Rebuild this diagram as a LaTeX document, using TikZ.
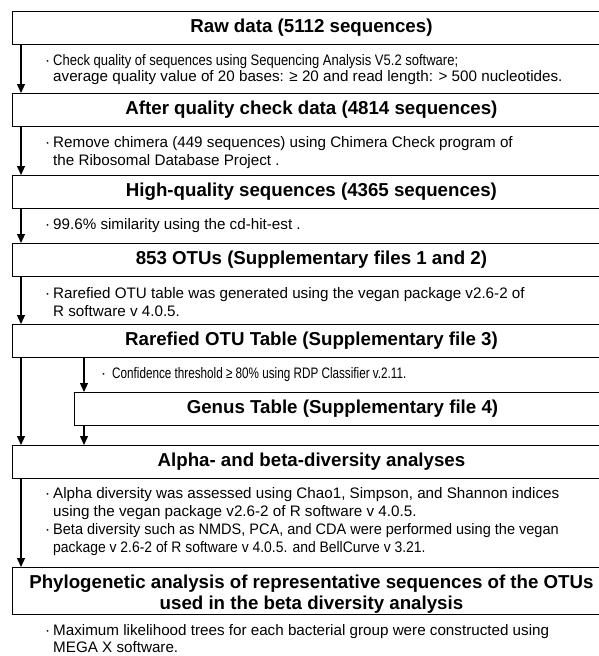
\documentclass[tikz,border=0pt]{standalone}
\usepackage{fontspec}
\setmainfont{Liberation Sans}
\usetikzlibrary{arrows.meta}
\newcommand{\bul}{\makebox[8pt][l]{·}}
\newcommand{\ind}{\hspace*{8pt}}
\begin{document}
\begin{tikzpicture}[x=1pt,y=-1pt,
 box/.style={draw, line width=0.9pt, fill=white, anchor=north west, inner sep=0pt,
   font=\fontsize{18.7}{21}\selectfont\bfseries, align=center},
 note/.style={anchor=west, align=left, inner sep=0pt},
 nf/.style={font=\fontsize{15.2}{17.5}\selectfont},
 flow/.style={line width=1.3pt, -{Triangle[width=8pt,length=9pt]}}]
\useasboundingbox (0,0) rectangle (599,656);
\begin{scope}
\clip (0,0) rectangle (599,656);
\node[box, minimum width=598pt, minimum height=33pt] (b1) at (12,11) {Raw data (5112 sequences)};
\node[box, minimum width=598pt, minimum height=33pt] (b2) at (12,93) {After quality check data (4814 sequences)};
\node[box, minimum width=598pt, minimum height=33pt] (b3) at (12,175) {High-quality sequences (4365 sequences)};
\node[box, minimum width=598pt, minimum height=33pt] (b4) at (12,243) {853 OTUs (Supplementary files 1 and 2)};
\node[box, minimum width=598pt, minimum height=33pt] (b5) at (12,324) {Rarefied OTU Table (Supplementary file 3)};
\node[box, minimum width=536pt, minimum height=33pt] (g) at (74,392) {Genus Table (Supplementary file 4)};
\node[box, minimum width=598pt, minimum height=33pt] (b6) at (12,445) {Alpha- and beta-diversity analyses};
\node[box, minimum width=598pt, minimum height=47pt] (b7) at (12,567) {};
\node[font=\fontsize{18.7}{21}\selectfont\bfseries, align=center, inner sep=0pt] (t7) at ([yshift=-3.5pt]b7.center)
  {Phylogenetic analysis of representative sequences of the OTUs\\used in the beta diversity analysis};
\end{scope}

\node[note, font=\fontsize{15.2}{15.6}\selectfont] (n1) at (45,69.5)
  {\bul\scalebox{0.856}[1]{Check quality of sequences using Sequencing Analysis V5.2 software;}\\\ind average quality value of 20 bases: ≥ 20 and read length: > 500 nucleotides.};
\node[note, nf, font=\fontsize{15.2}{18.3}\selectfont] (n2) at (45,152.5)
  {\bul Remove chimera (449 sequences) using Chimera Check program of\\\ind the Ribosomal Database Project .};
\node[note, nf] (n3) at (45,226)
  {\bul 99.6\% similarity using the cd-hit-est .};
\node[note, nf] (n4) at (45,302)
  {\bul Rarefied OTU table was generated using the vegan package v2.6-2 of\\\ind R software v 4.0.5.};
\node[note, nf] (n5) at (101,375)
  {\makebox[11pt][l]{·}\scalebox{0.77}[1]{Confidence threshold ≥ 80\% using RDP Classifier v.2.11.}};
\node[note, nf] (n6) at (45,503.5)
  {\bul Alpha diversity was assessed using Chao1, Simpson, and Shannon indices\\\ind using the vegan package v2.6-2 of R software v 4.0.5.};
\node[note, nf] (n7) at (45,539.5)
  {\bul\scalebox{0.956}[1]{Beta diversity such as NMDS, PCA, and CDA were performed using the vegan}\\\ind\scalebox{0.915}[1]{package v 2.6-2 of R software v 4.0.5. and BellCurve v 3.21.}};
\node[note, font=\fontsize{15.2}{17}\selectfont] (n8) at (45,639)
  {\bul Maximum likelihood trees for each bacterial group were constructed using\\\ind MEGA X software.};

\draw[flow] ([xshift=9pt]b1.south west) -- ([xshift=9pt]b2.north west);
\draw[flow] ([xshift=9pt]b2.south west) -- ([xshift=9pt]b3.north west);
\draw[flow] ([xshift=9pt]b3.south west) -- ([xshift=9pt]b4.north west);
\draw[flow] ([xshift=9pt]b4.south west) -- ([xshift=9pt]b5.north west);
\draw[flow] ([xshift=9pt]b5.south west) -- ([xshift=9pt]b6.north west);
\draw[flow] ([xshift=72pt]b5.south west) -- ([xshift=10pt]g.north west);
\draw[flow] ([xshift=10pt]g.south west) -- ([xshift=72pt]b6.north west);
\draw[flow] ([xshift=9pt]b6.south west) -- ([xshift=9pt]b7.north west);
\end{tikzpicture}
\end{document}
